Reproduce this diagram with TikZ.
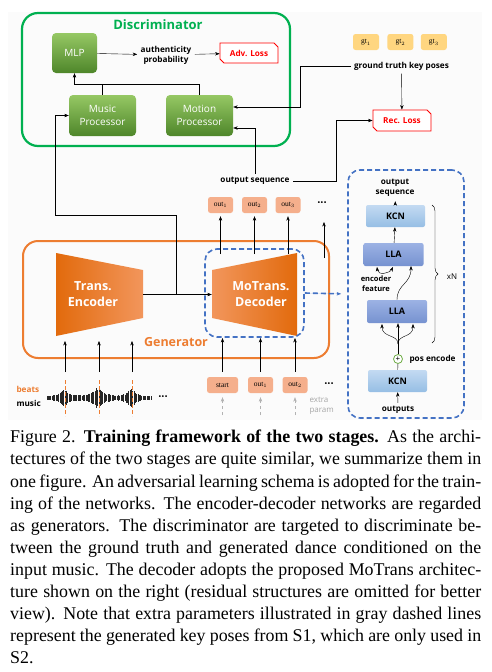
\documentclass[tikz,border=0pt]{standalone}
\usepackage{fontspec}
\setmainfont{Liberation Serif}
\newfontfamily\diagfont{Open Sans}
\usetikzlibrary{shapes,shapes.misc,arrows.meta,positioning,calc,decorations.pathreplacing}
\definecolor{dgreen}{RGB}{0,176,80}
\definecolor{lgreen}{RGB}{150,200,100}
\definecolor{mgreen}{RGB}{78,134,42}
\definecolor{gorange}{RGB}{237,125,49}
\definecolor{dorange}{RGB}{226,106,12}
\definecolor{lorange}{RGB}{242,150,92}
\definecolor{salmon}{RGB}{245,175,140}
\definecolor{gtyellow}{RGB}{255,214,128}
\definecolor{dblue}{RGB}{68,114,196}
\definecolor{kcnA}{RGB}{195,218,242}
\definecolor{kcnB}{RGB}{150,190,228}
\definecolor{llaA}{RGB}{156,178,228}
\definecolor{llaB}{RGB}{118,146,208}
\definecolor{lossred}{RGB}{255,0,0}
\definecolor{pgreen}{RGB}{112,173,71}
\def\Disc{Discriminator}
\def\Gen{Generator}
\def\Dots{\textperiodcentered\textperiodcentered\textperiodcentered}

\begin{document}
\begin{tikzpicture}[x=1pt,y=-1pt,% pixel grid, y runs down
	every node/.style={
		align=center,		% so that "\\" breaks lines
		font=\diagfont\bfseries\fontsize{8.2}{10}\selectfont
		},
	>={Stealth[length=4.5pt,width=3.4pt]},
	every edge/.style={draw,thick},
	gbox/.style={rectangle,rounded corners=4pt,top color=lgreen,bottom color=mgreen,
		text=white,font=\diagfont\fontsize{10}{12.5}\selectfont,inner sep=0pt},
	loss/.style={chamfered rectangle,chamfered rectangle xsep=2pt,chamfered rectangle ysep=2pt,
		chamfered rectangle corners={north east,south west},draw=lossred,thick,fill=white,
		text=lossred,minimum width=58pt,minimum height=20pt,inner sep=0pt},
	tok/.style={rectangle,rounded corners=2.5pt,fill=salmon,inner sep=0pt,
		minimum width=25pt,minimum height=16pt,font=\fontsize{7.5}{8}\selectfont},
	gt/.style={tok,fill=gtyellow,minimum width=26pt},
	kcn/.style={rectangle,rounded corners=2pt,top color=kcnA,bottom color=kcnB,
		minimum width=59pt,minimum height=22pt,inner sep=0pt,font=\diagfont\bfseries\fontsize{9}{10}\selectfont},
	lla/.style={kcn,top color=llaA,bottom color=llaB,minimum width=60pt,minimum height=23pt},
	trap/.style={white,font=\diagfont\bfseries\fontsize{12.5}{16}\selectfont},
	bdash/.style={draw=dblue,line width=1.6pt,dash pattern=on 5pt off 3pt},
	beat/.style={draw=gorange,thick,dash pattern=on 3.5pt off 2.5pt},
	wave/.style={draw=black!85,line width=1pt},
	dots/.style={font=\diagfont\bfseries\fontsize{11}{11}\selectfont}
	]
\useasboundingbox (0,0) rectangle (492,672);
\fill[gray!3] (8,12) rectangle (482,420);

% discriminator
\node[draw=dgreen,line width=2.2pt,rounded corners=16pt,minimum width=268pt,minimum height=133pt](Disc) at (156,79.5){};
\node[text=dgreen,font=\diagfont\bfseries\fontsize{13}{15}\selectfont] at (158,25){\Disc};
\node[gbox,minimum width=45pt,minimum height=40pt](MLP) at (74.5,53){MLP};
\node(AP) at (166,55){authenticity\\probability};
\node[loss](Adv) at (249,53){Adv. Loss};
\node[gbox,minimum width=67pt,minimum height=41pt](MusP) at (102.5,115.5){Music\\Processor};
\node[gbox,minimum width=67pt,minimum height=41pt](MotP) at (199.5,115.5){Motion\\Processor};

% ground truth
\node[gt](gt1) at (366,42){$\mathrm{gt}_1$};
\node[gt](gt2)[right=8pt of gt1]{$\mathrm{gt}_2$};
\node[gt](gt3)[right=7pt of gt2]{$\mathrm{gt}_3$};
\node(GT) at (401.5,66){ground truth key poses};
\node[loss,minimum height=21pt](Rec) at (402,120.5){Rec. Loss};
\node(OS) at (255,181){output sequence};

% generator
\node[draw=gorange,line width=2pt,rounded corners=15pt,minimum width=306pt,minimum height=117pt](Gen) at (176,299.5){};
\node[text=gorange,font=\diagfont\bfseries\fontsize{12.5}{15}\selectfont] at (176,342){\Gen};
\shade[left color=dorange,right color=lorange] (56,253) -- (143,270) -- (143,318) -- (56,336) -- cycle;
\shade[left color=lorange,right color=dorange] (212,270) -- (297,253) -- (297,336) -- (212,318) -- cycle;
\node[minimum width=87pt,minimum height=83pt,inner sep=0pt](Enc) at (99.5,294.5){};
\node[minimum width=85pt,minimum height=83pt,inner sep=0pt](Dec) at (254.5,294.5){};
\node[trap] at (93,294.5){Trans.\\Encoder};
\node[trap] at (261,294.5){MoTrans.\\Decoder};
\node[bdash,rounded corners=12pt,minimum width=99pt,minimum height=88pt](DB) at (254.5,293){};

% outputs on top
\node[tok](o1) at (220.5,205){$\mathrm{out}_1$};
\node[tok](o2) at (254.5,205){$\mathrm{out}_2$};
\node[tok](o3) at (288,205){$\mathrm{out}_3$};
\node[dots](od) at (322,204){\Dots};
\coordinate (o4) at (324,222);

% inputs at the bottom
\node[tok,minimum width=31pt](s0) at (222.5,385){start};
\node[tok](s1) at (260.5,385){$\mathrm{out}_1$};
\node[tok](s2) at (295,385){$\mathrm{out}_2$};
\node[dots] at (329,385){\Dots};
\node[text=gray!70,font=\diagfont\fontsize{8}{10}\selectfont,align=left,anchor=west] at (306,406){extra\\param};
\node[text=gorange,anchor=west] at (13,389){beats};
\node[anchor=west] at (13,403){music};
\node[dots] at (163,398){\Dots};

% music wave
\pgfmathsetseed{5}
\foreach \x in {47,48.3,...,152}{
	\pgfmathsetmacro\a{1.3+(8/(1+((\x-64)/4.5)^2)+10/(1+((\x-98)/5.5)^2)+8/(1+((\x-131)/4.5)^2))*(0.6+0.4*rnd)}
	\draw[wave] (\x,398-\a) -- (\x,398+\a);
}
\foreach \x [count=\i] in {65,99,132}{
	\coordinate (b\i) at (\x,380);
	\draw[beat] (b\i) -- ++(0,36);
	\draw[->] ($(b\i)+(0,-8)$) -- (b\i |- 0,341);
}

% connectors
\draw[->] (MLP) -- (AP);
\draw[->] (AP) -- (Adv);
\draw (MusP.north) -- ++(0,-11);
\draw[->] (MotP.north) |- ($(MLP.south)+(0,11)$) -- (MLP.south);
\coordinate (J1) at (176,294.5);
\draw[->] (Enc.east) -- (Dec.west);
\draw[->] (J1) |- (55,215) |- (MusP.west);
\draw[->] (GT.west) -- ++(-50,0) |- ($(MotP.east)+(0,-8.5)$);
\draw[->] (OS.north) |- ($(MotP.east)+(0,12.5)$);
\draw[->] (OS.east) -| ($(Rec.west)+(-36,0)$) -- (Rec.west);
\draw[->] (GT) -- (Rec);
\foreach \n in {1,2,3}
	\draw[->,shorten >=3pt] (o\n.south |- 0,254) -- (o\n.south);
\draw[->] (o4 |- 0,258) -- (o4);
\foreach \n in {s0,s1,s2}{
	\draw[->,shorten <=5pt] (\n.north) -- (\n.north |- 0,338);
	\draw[->,gray!60,dashed,shorten >=4pt] (\n.south |- 0,415) -- (\n.south);
}

% MoTrans detail
\node[bdash,rounded corners=12pt,minimum width=116pt,minimum height=248pt](DD) at (406,294){};
\draw[->,bdash,draw=dblue,fill=dblue,shorten >=6pt] (DB.east) -- (DD.west);
\node(OSq) at (395,188){output\\sequence};
\node[kcn](K2) at (395.5,216){KCN};
\node[lla](L2) at (393.5,254.5){LLA};
\node[font=\diagfont\bfseries\fontsize{7.5}{10}\selectfont](EF) at (376,283.5){encoder\\feature};
\node[lla](L1) at (397,311.5){LLA};
\node[circle,draw=pgreen,thick,fill=white,minimum size=9pt,inner sep=0pt,font=\bfseries\fontsize{8}{8}\selectfont](PE) at (398,359){+};
\node[anchor=west] at (406,359){pos encode};
\node[kcn](K1) at (397.5,381){KCN};
\node(OUT) at (398,410){outputs};
\coordinate (br) at (398,344);
\draw[->] (OUT) -- (K1);
\draw (K1) -- (PE);
\draw (PE) -- (br);
\draw[->] (br) -- (L1.south -| br);
\draw[->] (br) .. controls (398,334) and (382,338) .. (382,324);
\draw[->] (br) .. controls (398,334) and (413,338) .. (413,324);
\draw[->] (L1.north) .. controls (397,284) and (411,284) .. (411,266);
\draw[<->] (377,267) .. controls (378,276) and (390,273) .. (393,267);
\draw[->] (L2) -- (K2);
\draw[->,shorten >=1pt] (K2) -- (OSq);
\draw[decorate,decoration={brace,amplitude=6pt}] (432,205) -- (432,343);
\node[font=\diagfont\fontsize{8}{10}\selectfont] at (452,277){xN};

% caption
\node[anchor=north west,inner sep=0pt,align=left,font=\rmfamily\fontsize{17.9}{22.1}\selectfont](Cap) at (10,430){%
\makebox[471pt][s]{Figure 2. \textbf{Training framework of the two stages.} As the archi-}\\
\makebox[471pt][s]{tectures of the two stages are quite similar, we summarize them in}\\
\makebox[471pt][s]{one figure. An adversarial learning schema is adopted for the train-}\\
\makebox[471pt][s]{ing of the networks. The encoder-decoder networks are regarded}\\
\makebox[471pt][s]{as generators. The discriminator are targeted to discriminate be-}\\
\makebox[471pt][s]{tween the ground truth and generated dance conditioned on the}\\
\makebox[471pt][s]{input music. The decoder adopts the proposed MoTrans architec-}\\
\makebox[471pt][s]{ture shown on the right (residual structures are omitted for better}\\
\makebox[471pt][s]{view). Note that extra parameters illustrated in gray dashed lines}\\
\makebox[471pt][s]{represent the generated key poses from S1, which are only used in}\\
S2.};
\end{tikzpicture}
\end{document}
